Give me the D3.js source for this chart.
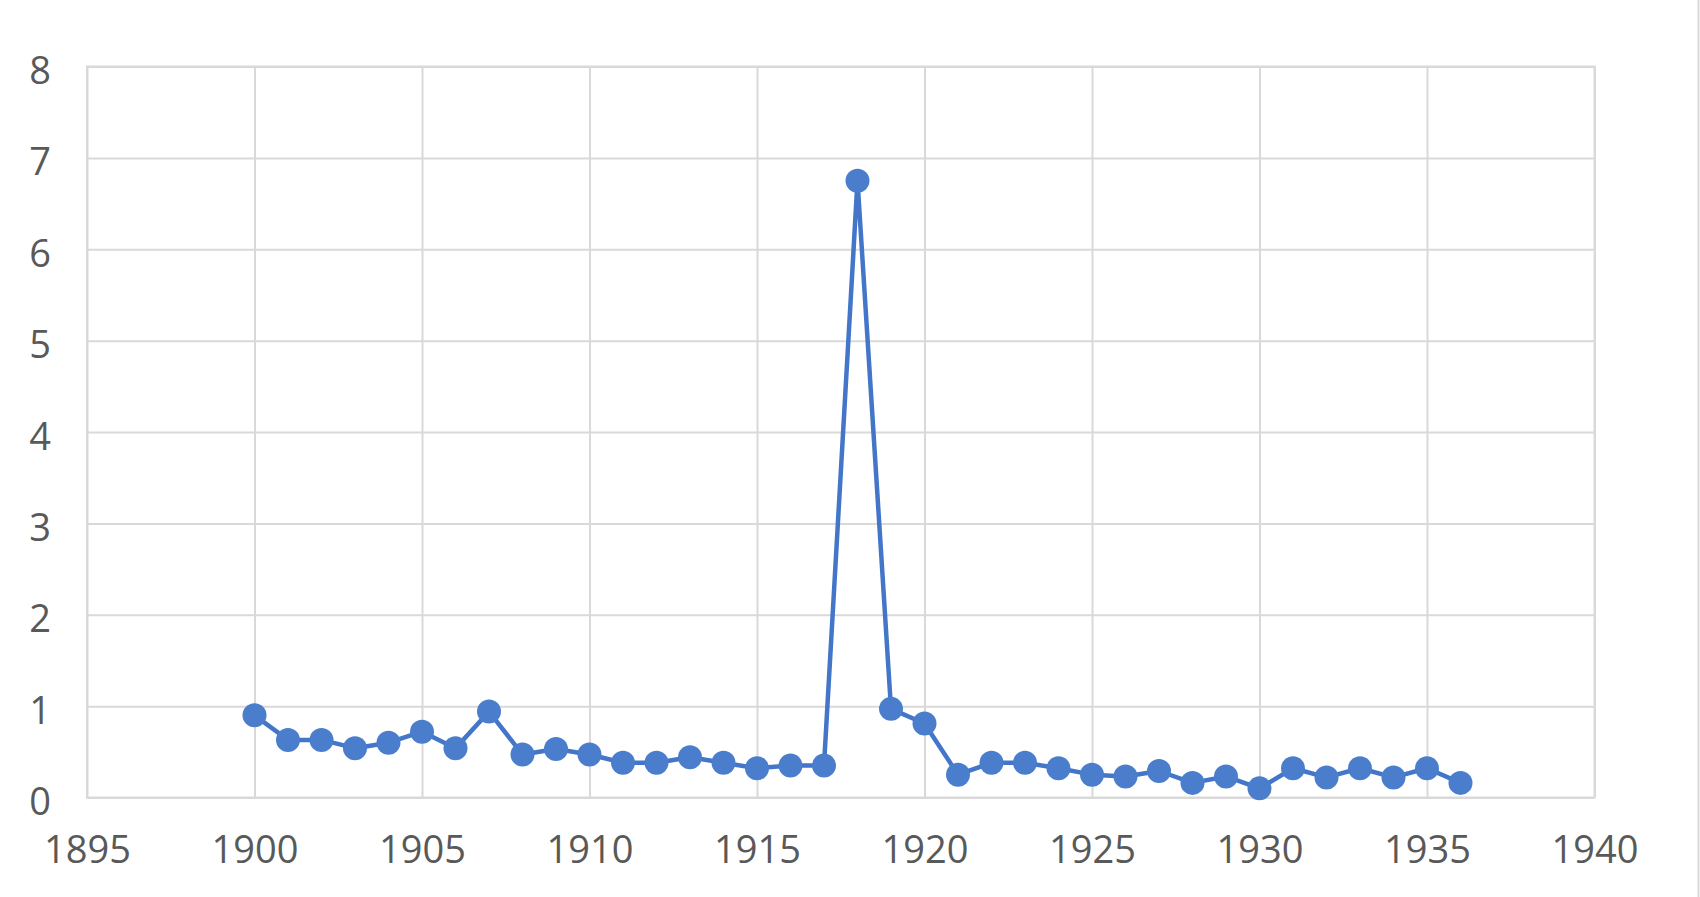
<!DOCTYPE html>
<html>
<head>
<meta charset="utf-8">
<script src="https://cdn.jsdelivr.net/npm/d3@7"></script>
<style>
  html, body { margin: 0; padding: 0; background: #ffffff; }
  svg { display: block; }
</style>
</head>
<body>
<svg id="chart" width="1700" height="897"></svg>
<script>
const years = [1900,1901,1902,1903,1904,1905,1906,1907,1908,1909,1910,1911,1912,1913,1914,1915,1916,1917,1918,1919,1920,1921,1922,1923,1924,1925,1926,1927,1928,1929,1930,1931,1932,1933,1934,1935,1936];
const values = [0.90,0.63,0.63,0.54,0.60,0.72,0.54,0.94,0.47,0.53,0.47,0.38,0.38,0.44,0.38,0.32,0.35,0.35,6.75,0.97,0.81,0.25,0.38,0.38,0.32,0.25,0.23,0.29,0.16,0.23,0.10,0.32,0.22,0.32,0.22,0.32,0.16];
const xTicks = [1895,1900,1905,1910,1915,1920,1925,1930,1935,1940];
const yTicks = [0,1,2,3,4,5,6,7,8];

(function () {
const svg = d3.select("#chart");
const pLeft = 87, pRight = 1594.5, pTop = 66.5, pBottom = 797.5;
const x = d3.scaleLinear().domain([1895, 1940]).range([pLeft, pRight]);
const y = d3.scaleLinear().domain([0, 8]).range([pBottom, pTop]);

const gridColor = "#d9d9d9";
const textColor = "#595959";
const font = "'Open Sans', 'Noto Sans', sans-serif";

// outer frame line at right edge
svg.append("line")
  .attr("x1", 1698.5).attr("x2", 1698.5).attr("y1", 0).attr("y2", 897)
  .attr("stroke", gridColor).attr("stroke-width", 2);

// vertical gridlines
svg.append("g")
  .attr("transform", `translate(0,${pBottom})`)
  .call(d3.axisBottom(x).tickValues(xTicks).tickSize(-(pBottom - pTop)).tickFormat(""))
  .call(g => g.select(".domain").remove())
  .call(g => g.selectAll("line").attr("stroke", gridColor).attr("stroke-width", 2));

// horizontal gridlines
svg.append("g")
  .attr("transform", `translate(${pLeft},0)`)
  .call(d3.axisLeft(y).tickValues(yTicks).tickSize(-(pRight - pLeft)).tickFormat(""))
  .call(g => g.select(".domain").remove())
  .call(g => g.selectAll("line").attr("stroke", gridColor).attr("stroke-width", 2));

// plot border
svg.append("rect")
  .attr("x", x.range()[0]).attr("y", y.range()[1])
  .attr("width", x.range()[1] - x.range()[0])
  .attr("height", y.range()[0] - y.range()[1])
  .attr("fill", "none").attr("stroke", gridColor).attr("stroke-width", 2);

// x tick labels
svg.append("g")
  .attr("transform", `translate(0,${pBottom})`)
  .call(d3.axisBottom(x).tickValues(xTicks).tickSize(0).tickFormat(d3.format("d")))
  .call(g => g.select(".domain").remove())
  .call(g => g.selectAll("text")
    .attr("y", 65).attr("dy", 0)
    .attr("fill", textColor)
    .style("font-family", font).style("font-size", "38px"));

// y tick labels
svg.append("g")
  .attr("transform", `translate(${pLeft},0)`)
  .call(d3.axisLeft(y).tickValues(yTicks).tickSize(0).tickFormat(d3.format("d")))
  .call(g => g.select(".domain").remove())
  .call(g => g.selectAll("text")
    .attr("x", -36).attr("dy", 17)
    .attr("text-anchor", "end")
    .attr("fill", textColor)
    .style("font-family", font).style("font-size", "38px"));

const data = years.map((yr, i) => ({year: yr, value: values[i]}));

// line
svg.append("path")
  .datum(data)
  .attr("fill", "none")
  .attr("stroke", "#4376c9")
  .attr("stroke-width", 4.5)
  .attr("stroke-linejoin", "round")
  .attr("d", d3.line().x(d => x(d.year)).y(d => y(d.value)));

// markers
svg.append("g")
  .selectAll("circle")
  .data(data)
  .join("circle")
  .attr("cx", d => x(d.year))
  .attr("cy", d => y(d.value))
  .attr("r", 12)
  .attr("fill", "#4a7ecd");
})();
</script>
</body>
</html>
